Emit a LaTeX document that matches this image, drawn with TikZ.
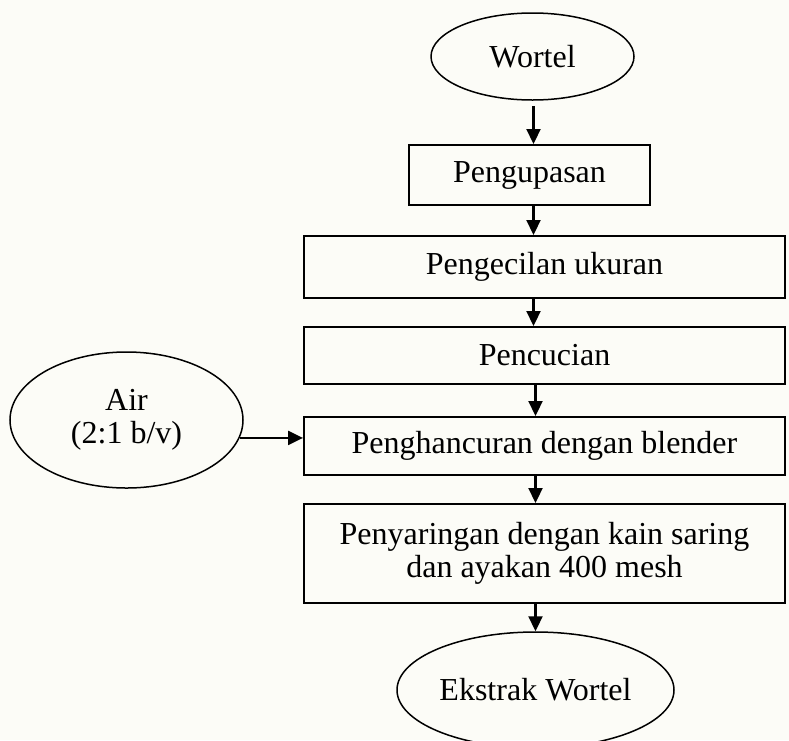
\documentclass[tikz,border=0pt]{standalone}
\usepackage{fontspec}
\setmainfont{Liberation Serif}
\usetikzlibrary{shapes.geometric,arrows.meta}
\definecolor{paper}{RGB}{252,252,247}
\begin{document}
\begin{tikzpicture}[x=1pt,y=-1pt,
  every node/.style={font=\fontsize{32}{33}\selectfont, inner sep=0pt, align=center},
  procbox/.style={draw=black, line width=2pt, rectangle},
  term/.style={draw=black, line width=1.5pt, ellipse},
  arr/.style={line width=2.2pt, -{Triangle[length=15pt,width=14pt]}}]
\fill[paper] (0,0) rectangle (789,740);
\useasboundingbox (0,0) rectangle (789,740);
\node[term, minimum width=203pt, minimum height=87pt] (wortel) at (532.5,56.5) {Wortel};
\node[procbox, minimum width=241pt, minimum height=60pt] (peng) at (529.5,175) {Pengupasan};
\node[procbox, minimum width=481pt, minimum height=62pt] (kecil) at (544.5,267) {Pengecilan ukuran};
\node[procbox, minimum width=481pt, minimum height=57pt] (cuci) at (544.5,355.5) {Pencucian};
\node[procbox, minimum width=481pt, minimum height=58pt] (hancur) at (544.5,446) {Penghancuran dengan blender};
\node[procbox, minimum width=481pt, minimum height=99pt] (saring) at (544.5,553.5) {Penyaringan dengan kain saring\\dan ayakan 400 mesh};
\node[term, minimum width=277pt, minimum height=116pt] (ekstrak) at (535.5,690) {Ekstrak Wortel};
\node[term, minimum width=233pt, minimum height=136pt] (air) at (126.5,420) {Air\\(2:1 b/v)};
\coordinate (ca) at (533.5,0);
\coordinate (cb) at (535.5,0);
\draw[arr, shorten <=5pt] (wortel.south -| ca) -- (peng.north -| ca);
\draw[arr] (peng.south -| ca) -- (kecil.north -| ca);
\draw[arr] (kecil.south -| ca) -- (cuci.north -| ca);
\draw[arr] (cuci.south -| cb) -- (hancur.north -| cb);
\draw[arr] (hancur.south -| cb) -- (saring.north -| cb);
\draw[arr] (saring.south -| cb) -- (ekstrak.north -| cb);
\draw[arr] (air.-9) -- (air.-9 -| hancur.west);
\end{tikzpicture}
\end{document}
